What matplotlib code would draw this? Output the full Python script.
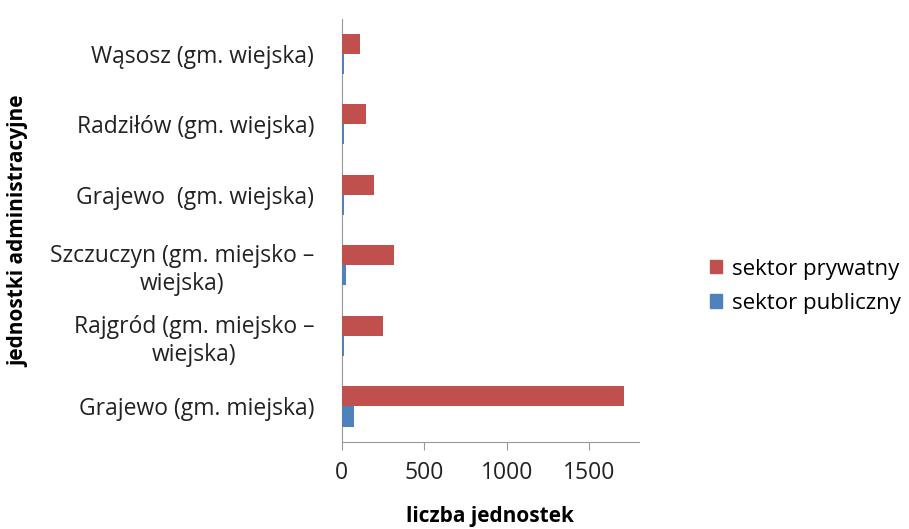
import numpy as np
import matplotlib
matplotlib.use("Agg")
import matplotlib.pyplot as plt
from matplotlib.patches import Patch

# Data (bottom to top as in the chart)
categories = [
    "Grajewo (gm. miejska)",
    "Rajgród (gm. miejsko –\nwiejska)",
    "Szczuczyn (gm. miejsko –\nwiejska)",
    "Grajewo  (gm. wiejska)",
    "Radziłów (gm. wiejska)",
    "Wąsosz (gm. wiejska)",
]
prywatny = [1709, 250, 318, 195, 147, 111]
publiczny = [75, 12, 26, 12, 12, 12]

plt.rcParams['font.family'] = ['Open Sans', 'DejaVu Sans']

fig = plt.figure(figsize=(9.09, 5.29), dpi=100)
ax = fig.add_axes([0.376, 0.165, 0.327, 0.80])

y = np.arange(len(categories))
h = 0.285
ax.barh(y + h / 2, prywatny, height=h, color='#C0504D', label='sektor prywatny', zorder=3)
ax.barh(y - h / 2, publiczny, height=h, color='#4F81BD', label='sektor publiczny', zorder=3)

ax.set_ylim(-0.5, len(categories) - 0.5)
ax.set_xlim(0, 1800)
ax.set_xticks([0, 500, 1000, 1500])
ax.set_yticks(y)
ax.set_yticklabels(categories, multialignment='center')
ax.tick_params(axis='y', length=0, pad=20, labelsize=16.5, colors='#222222')
ax.tick_params(axis='x', length=6, color='#999999', labelsize=16.5, colors='#222222', pad=8)

for s in ['top', 'right']:
    ax.spines[s].set_visible(False)
ax.spines['left'].set_color('#999999')
ax.spines['bottom'].set_color('#999999')
ax.spines['left'].set_zorder(1)

ax.set_xlabel('liczba jednostek', fontsize=15, fontweight='bold', labelpad=15)
fig.text(0.021, 0.563, 'jednostki administracyjne', rotation=90, fontsize=15,
         fontweight='bold', ha='center', va='center')

handles = [Patch(color='#C0504D', label='sektor prywatny'),
           Patch(color='#4F81BD', label='sektor publiczny')]
fig.legend(handles=handles, loc='center left', bbox_to_anchor=(0.781, 0.459),
           frameon=False, fontsize=16, handlelength=0.55, handleheight=0.55,
           handletextpad=0.45, labelspacing=0.6, borderaxespad=0, borderpad=0)

fig.savefig('out.png', dpi=100)
